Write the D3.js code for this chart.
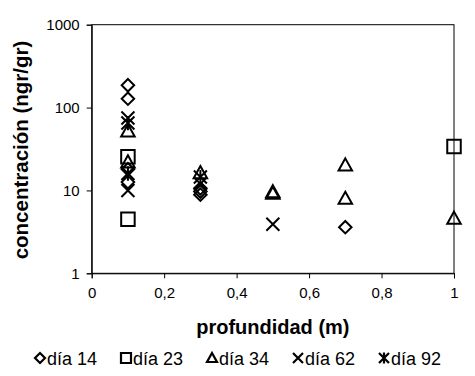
<!DOCTYPE html>
<html>
<head>
<meta charset="utf-8">
<script src="https://cdn.jsdelivr.net/npm/d3@7"></script>
<style>
  body { margin: 0; background: #fff; }
  text { font-family: "Liberation Sans", Arial, sans-serif; fill: #000; }
</style>
</head>
<body>
<div id="chart"></div>
<script>
// series: depth (m) and concentration (ngr/gr)
var series = ["día 14", "día 23", "día 34", "día 62", "día 92"];
var shapes = ["diamond", "square", "triangle", "cross", "star"];

var dia14 = [[0.1, 186], [0.1, 128], [0.1, 18], [0.1, 12.6], [0.3, 10.6], [0.3, 9.7], [0.3, 8.9], [0.7, 3.6]];
var dia23 = [[0.1, 25.5], [0.1, 4.5], [1.0, 34]];
var dia34 = [[0.1, 52], [0.1, 22], [0.3, 16.3], [0.5, 9.2], [0.5, 9.6], [0.7, 20.2], [0.7, 8.0], [1.0, 4.6]];
var dia62 = [[0.1, 75], [0.1, 10], [0.3, 12], [0.5, 3.9]];
var dia92 = [[0.1, 65], [0.1, 16], [0.3, 14.5]];
var allData = [dia14, dia23, dia34, dia62, dia92];

var xTicks = [0, 0.2, 0.4, 0.6, 0.8, 1];
var yTicks = [1, 10, 100, 1000];

var W = 475, H = 376;
var mLeft = 91.7, mRight = 454, mTop = 24.7, mBottom = 273.3;

var svg = d3.select("#chart").append("svg")
    .attr("width", W)
    .attr("height", H);

var x = d3.scaleLinear().domain([0, 1]).range([mLeft, mRight]);
var y = d3.scaleLog().domain([1, 1000]).range([mBottom, mTop]);

// frame
svg.append("rect")
    .attr("x", mLeft).attr("y", mTop)
    .attr("width", mRight - mLeft).attr("height", mBottom - mTop)
    .attr("fill", "none").attr("stroke", "#000").attr("stroke-width", 1);

var xAxis = svg.append("g")
    .attr("transform", "translate(0," + mBottom + ")")
    .call(d3.axisBottom(x).tickValues(xTicks).tickSize(5).tickPadding(9)
        .tickFormat(function(d) { return String(d).replace(".", ","); }));
var yAxis = svg.append("g")
    .attr("transform", "translate(" + mLeft + ",0)")
    .call(d3.axisLeft(y).tickValues(yTicks).tickSize(5).tickPadding(7)
        .tickFormat(d3.format("d")));

[xAxis, yAxis].forEach(function(g) {
    g.select(".domain").attr("stroke", "#000");
    g.selectAll(".tick line").attr("stroke", "#000");
    g.selectAll(".tick text")
        .style("font-family", "'Liberation Sans', Arial, sans-serif")
        .style("font-size", "15px")
        .attr("fill", "#000");
});

// axis titles
svg.append("text")
    .attr("x", (mLeft + mRight) / 2).attr("y", 334)
    .attr("text-anchor", "middle")
    .style("font-size", "20px").style("font-weight", "bold")
    .text("profundidad (m)");

svg.append("text")
    .attr("transform", "translate(28," + ((mTop + mBottom) / 2 + 1) + ") rotate(-90)")
    .attr("text-anchor", "middle")
    .style("font-size", "20.5px").style("font-weight", "bold")
    .text("concentración (ngr/gr)");

/* marker path for a given shape and size */
function markerPath(shape, s) {
    var h = s / 2;
    if (shape == "diamond")
        return "M0," + (-h) + "L" + h + ",0L0," + h + "L" + (-h) + ",0Z";
    if (shape == "square")
        return "M" + (-h) + "," + (-h) + "H" + h + "V" + h + "H" + (-h) + "Z";
    if (shape == "triangle")
        return "M0," + (-h) + "L" + h + "," + (h * 0.8) + "L" + (-h) + "," + (h * 0.8) + "Z";
    if (shape == "cross")
        return "M" + (-h) + "," + (-h) + "L" + h + "," + h + "M" + h + "," + (-h) + "L" + (-h) + "," + h;
    // star: cross plus vertical bar
    return "M" + (-h) + "," + (-h) + "L" + h + "," + h + "M" + h + "," + (-h) + "L" + (-h) + "," + h +
        "M0," + (-h * 1.1) + "V" + (h * 1.1);
}

var sizes = [12.5, 13.5, 13.5, 13, 13];

allData.forEach(function(data, i) {
    svg.append("g").selectAll("path")
        .data(data)
        .enter().append("path")
        .attr("transform", function(d) { return "translate(" + x(d[0]) + "," + y(d[1]) + ")"; })
        .attr("d", markerPath(shapes[i], sizes[i]))
        .attr("fill", "none")
        .attr("stroke", "#000")
        .attr("stroke-width", 2);
});

// legend
var legendX = [40, 126, 212, 298, 384];
var legend = svg.append("g");
series.forEach(function(name, i) {
    legend.append("path")
        .attr("transform", "translate(" + legendX[i] + ",358)")
        .attr("d", markerPath(shapes[i], 10))
        .attr("fill", "none").attr("stroke", "#000").attr("stroke-width", 2.2);
    legend.append("text")
        .attr("x", legendX[i] + 7).attr("y", 365)
        .style("font-size", "18px")
        .text(name);
});
</script>
</body>
</html>
